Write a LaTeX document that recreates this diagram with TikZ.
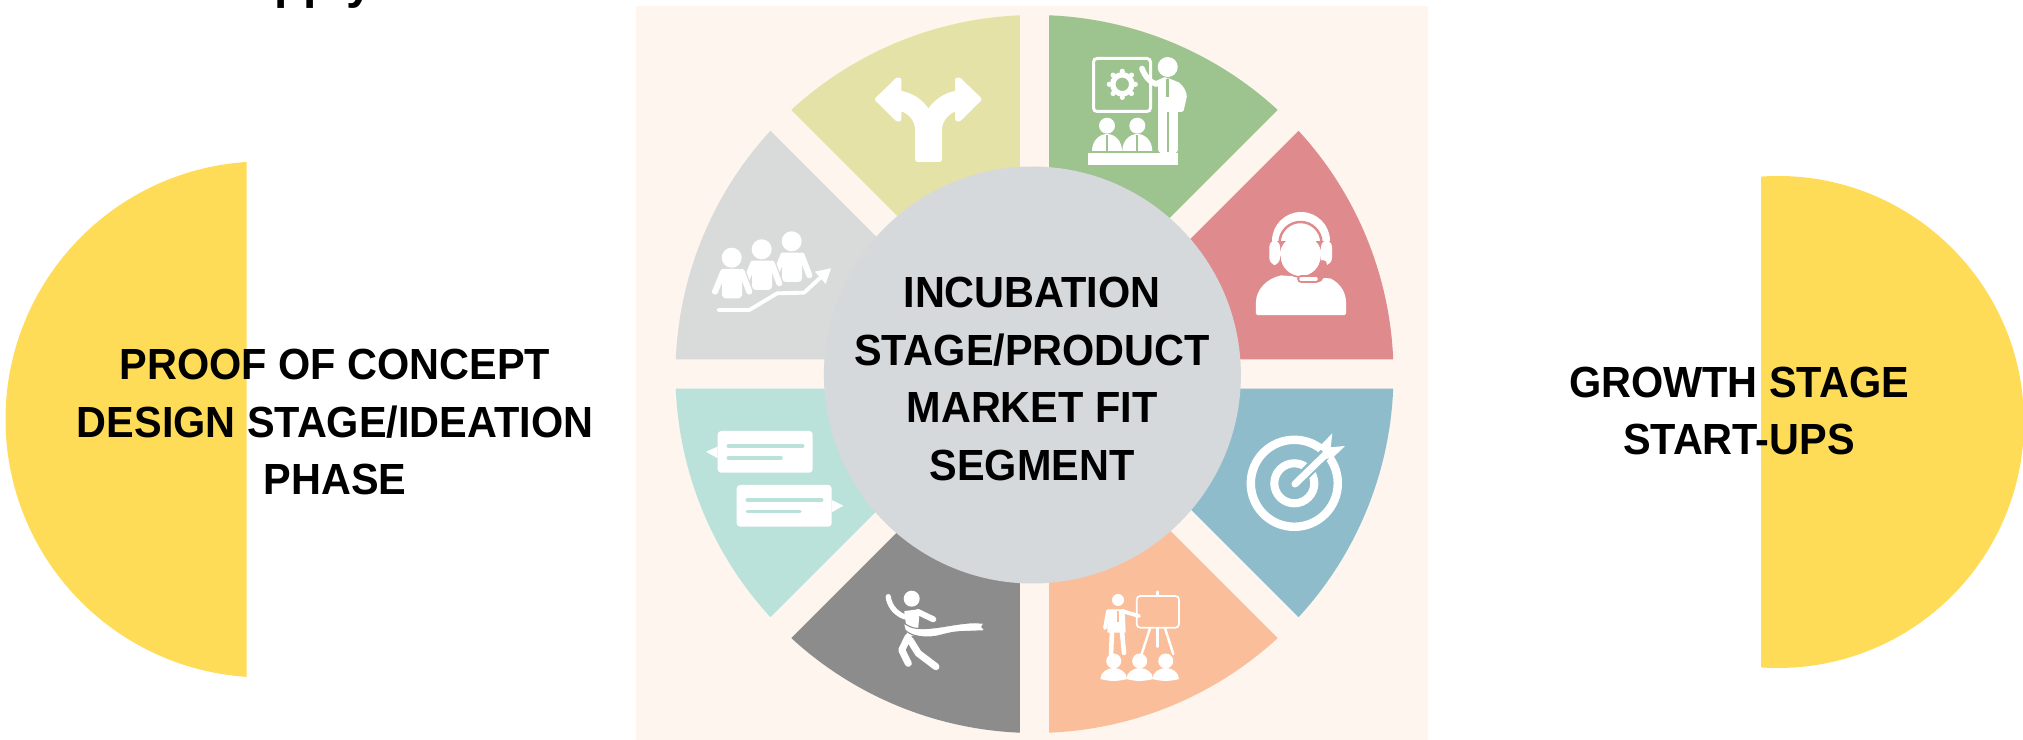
\documentclass[tikz,border=0pt]{standalone}
\usepackage{fontspec}
\setmainfont{Liberation Sans}
\newfontfamily\stagefont[FakeStretch=0.95]{Liberation Sans Bold}
\definecolor{bgcream}{HTML}{FDF5EE}
\definecolor{hubgray}{HTML}{D5D9DC}
\definecolor{halfyellow}{HTML}{FFDC58}
\definecolor{segred}{HTML}{DF8B8E}
\definecolor{segblue}{HTML}{8FBCCB}
\definecolor{segpeach}{HTML}{FABE9A}
\definecolor{segdark}{HTML}{8C8C8C}
\definecolor{segmint}{HTML}{BBE2DA}
\definecolor{seglight}{HTML}{D9DBDB}
\definecolor{segolive}{HTML}{E4E2A6}
\definecolor{seggreen}{HTML}{9DC38F}
\tikzset{
    stagetext/.style={align=center, text=black, inner sep=0pt, font=\fontsize{12.4}{16.45}\selectfont\stagefont},
    iconshape/.style={fill=white, draw=white, line join=round, line width=0.4pt},
    iconline/.style={draw=white, line cap=round, line join=round},
}
\begin{document}
\begin{tikzpicture}[x=0.01cm, y=-0.01cm]
    \useasboundingbox (0,0) rectangle (2023,740);
    \fill[bgcream] (636,6) rectangle (1428,740);
    % half discs
    \fill[halfyellow] (246.5,162) arc[start angle=-93.78, end angle=-266.22, radius=258] -- cycle;
    \fill[halfyellow] (1761,176.6) arc[start angle=-93.96, end angle=93.96, radius=246] -- cycle;
    % wheel
    \begin{scope}[shift={(1034.5,374)}]
        \foreach \a/\col in {0/segblue, 45/segpeach, 90/segdark, 135/segmint, 180/seglight, 225/segolive, 270/seggreen, 315/segred}
            \fill[\col] ({\a+22.5}:38.4) -- ({\a+2.35}:359) arc[start angle={\a+2.35}, end angle={\a+42.65}, radius=359] -- cycle;
    \end{scope}
    \fill[hubgray] (1032.4,375) circle[radius=208.5];
    % fork
    \draw[iconshape, line width=1.4pt] (917.5,159.5) -- (917.5,130) .. controls (917.5,120) and (911,111) .. (899,108) -- (899,119) -- (897.5,119) -- (877.5,99.3) -- (897.5,80) -- (899,80) -- (899,93) .. controls (912,95) and (922,102) .. (928.3,113) .. controls (935,102) and (945,95) .. (957.5,93) -- (957.5,80) -- (959,80) -- (979,99.3) -- (959,119) -- (957.5,119) -- (957.5,108) .. controls (947,111) and (939.5,120) .. (939.5,130) -- (939.5,159.5) -- cycle;
    % trainer
    \draw[white, line width=0.85pt, rounded corners=1pt] (1093.5,58.5) rectangle (1150.5,111.5);
    \draw[white, line width=1.55pt] (1122.3,84.3) circle[radius=9.5];
    \foreach \a in {0,45,...,315}
        \fill[white] (1122.3,84.3) ++(\a:13) circle[radius=2.6];
    \fill[white] (1167.7,67) circle[radius=10];
    \draw[iconline, line width=1.6pt] (1142,68.5) .. controls (1145,76) and (1149,82) .. (1156,84) -- (1165,80);
    \draw[iconshape, line width=1pt] (1160,86) -- (1168.3,80) -- (1178,84) .. controls (1183,88) and (1185,93) .. (1185,97) -- (1182,110) -- (1176,110) -- (1176,150) .. controls (1176,153) and (1160,153) .. (1160,150) -- cycle;
    \draw[seggreen, line width=0.4pt] (1168,112) -- (1168,152);
    \draw[seggreen, line width=0.9pt] (1167.7,79) -- (1167.7,97);
    \fill[white] (1088.3,153.3) rectangle (1178,165);
    \foreach \x in {1107,1137.3} {
        \fill[white] (\x,125.7) circle[radius=8];
        \fill[white] (\x-15,151) .. controls (\x-15,141) and (\x-8,134) .. (\x,134) .. controls (\x+8,134) and (\x+15,141) .. (\x+15,151) -- cycle;
        \draw[seggreen, line width=0.6pt] (\x,135) -- (\x,151);
    }
    % headset
    \draw[iconshape, line width=0.9pt] (1257.5,313.5) -- (1257.5,303) .. controls (1257.5,290) and (1268,280) .. (1281,277) -- (1330,280) .. controls (1340,285) and (1344.5,294) .. (1344.5,303) -- (1344.5,313.5) -- cycle;
    \fill[white] (1272,241) arc[start angle=180, end angle=360, radius=29] -- cycle;
    \fill[white] (1300.7,256) circle[radius=21];
    \draw[segred, line width=0.5pt] (1321.7,256) arc[start angle=0, end angle=180, radius=21];
    \draw[segred, line width=0.7pt] (1279.5,243) arc[start angle=-180, end angle=0, radius=21];
    \fill[white, rounded corners=2pt] (1269.3,240) rectangle (1280,265);
    \fill[white, rounded corners=2pt] (1321,240) rectangle (1332,265);
    \draw[segred, line width=2.2pt, line cap=round] (1301,279) -- (1316,279) .. controls (1320,279) and (1323,273) .. (1323,264);
    \draw[white, line width=1pt, line cap=round] (1301,279) -- (1316,279);
    % target
    \draw[white, line width=2.4pt] (1294.3,483.3) circle[radius=43.5];
    \draw[white, line width=2.3pt] (1294.3,483.3) circle[radius=20];
    \draw[segblue, line width=3.4pt] (1303,476) -- (1325,454);
    \draw[iconline, line width=2pt] (1295,484) -- (1327,453);
    \fill[white] (1332.3,433.3) -- (1330.7,447.3) -- (1345,446) -- (1333.3,457.3) -- (1325,459.3) -- (1321,445) -- cycle;
    % presentation
    \fill[white] (1118,600) circle[radius=6];
    \draw[iconshape] (1108,610) -- (1124,610) -- (1125,632) -- (1108,632) -- cycle;
    \draw[iconline, line width=1.1pt] (1108,611) -- (1105,628);
    \draw[iconline, line width=1.1pt] (1122,611) -- (1139,616);
    \draw[iconline, line width=1.3pt] (1112,632) -- (1111,654);
    \draw[iconline, line width=1.3pt] (1122,632) -- (1124,653);
    \draw[segpeach, line width=0.4pt] (1118,611) -- (1118,622);
    \draw[white, line width=0.5pt, rounded corners=1pt] (1136.7,596) rectangle (1179,627.7);
    \draw[iconline, line width=0.7pt] (1157.3,591.7) -- (1157.3,596);
    \draw[iconline, line width=0.7pt] (1150,628.3) -- (1141.7,654);
    \draw[iconline, line width=0.7pt] (1157.3,628.3) -- (1157.3,646.7);
    \draw[iconline, line width=0.7pt] (1165,628.3) -- (1173.3,654);
    \foreach \x in {1113.7,1139.7,1165.7} {
        \fill[white] (\x,661) circle[radius=7.5];
        \fill[white] (\x-13.3,679) .. controls (\x-13.3,672) and (\x-6,668) .. (\x,668) .. controls (\x+6,668) and (\x+13.3,672) .. (\x+13.3,679) .. controls (\x+5,681.5) and (\x-5,681.5) .. cycle;
    }
    % runner
    \fill[white] (911.7,598.7) circle[radius=8];
    \draw[iconline, line width=1.5pt] (888.3,596.7) .. controls (889,604) and (894,613) .. (905,617);
    \draw[iconline, line width=1.7pt] (918,612) -- (933.3,619.3);
    \draw[iconshape] (905,611.7) -- (919,610) -- (917,635) -- (908,635) -- cycle;
    \draw[iconline, line width=2pt] (908.3,636.7) -- (901.7,650) -- (908.3,663.3);
    \draw[iconline, line width=2pt] (910,640) -- (918.3,653.3) -- (936,666.7);
    \draw[iconshape, draw=segdark, line width=0.3pt] (903.3,622.7) .. controls (908,626) and (912,628) .. (916.7,628.3) .. controls (935,630) and (955,623) .. (975,622.7) -- (984,623.3) -- (981.7,626.7) -- (985,630.7) -- (960,631.7) .. controls (950,632) and (940,636) .. (933.3,636.7) .. controls (925,637.5) and (912,637) .. (905,630) -- cycle;
    % chat
    \fill[white, rounded corners=1pt] (717.7,431) rectangle (812.7,472.7);
    \fill[white] (717.7,446.7) -- (706,451.7) -- (717.7,458.3) -- cycle;
    \fill[white, rounded corners=1pt] (736.7,485) rectangle (831.7,526.7);
    \fill[white] (831.7,500) -- (843.3,505.7) -- (831.7,512.3) -- cycle;
    \draw[segmint, line width=1pt, line cap=round] (728.3,446) -- (802.7,446);
    \draw[segmint, line width=1pt, line cap=round] (728.3,458) -- (781,458);
    \draw[segmint, line width=1pt, line cap=round] (747.3,500) -- (821.7,500);
    \draw[segmint, line width=1pt, line cap=round] (747.3,511.7) -- (800,511.7);
    % team
    \foreach \dx/\dy in {60/-16.4, 30/-8.4, 0/0} {
        \begin{scope}[shift={(\dx,\dy)}]
            \fill[white] (731.7,257.7) circle[radius=10];
            \draw[seglight, line width=2.4pt, line cap=round] (741.7,271.7) -- (749.3,291.7);
            \draw[iconline, line width=1.7pt] (723.3,271.7) -- (715,291.7);
            \draw[iconline, line width=1.7pt] (741.7,271.7) -- (749.3,291.7);
            \fill[white, rounded corners=1pt] (722,269) rectangle (742,298.3);
        \end{scope}
    }
    \draw[iconline, line width=1.1pt] (718.3,310) -- (749.3,310) -- (777.3,293.3) -- (804,292.7) -- (823.3,275);
    \fill[white] (831,268.3) -- (815,271.7) -- (825.7,284) -- cycle;
    % texts
    \node[stagetext] (hubtext) at (1032,379) {INCUBATION\\STAGE/PRODUCT\\MARKET FIT\\SEGMENT};
    \node[stagetext] (lefttext) at (335,422) {PROOF OF CONCEPT\\DESIGN STAGE/IDEATION\\PHASE};
    \node[stagetext] (righttext) at (1739,411) {GROWTH STAGE\\START-UPS};
    \node[anchor=base west, inner sep=0pt, font=\fontsize{13.6}{16}\selectfont\bfseries] (topword) at (273.6,-1.5) {pply};
\end{tikzpicture}
\end{document}
